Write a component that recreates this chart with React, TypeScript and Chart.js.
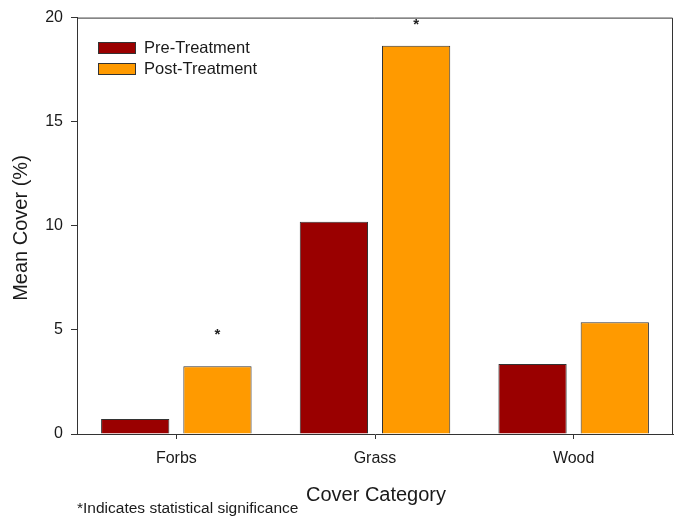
import React, { useEffect, useRef } from "react";
import { Chart, registerables } from "chart.js";

Chart.register(...registerables);

const categories = ["Forbs", "Grass", "Wood"];
const preTreatment = [0.72, 10.2, 3.36];
const postTreatment = [3.26, 18.65, 5.37];
const significanceMarkY = [4.8, 19.7, null];
const yTicks = [0, 5, 10, 15, 20];

const FONT = "'Liberation Sans', Arial, sans-serif";
const PRE_COLOR = "#9a0000";
const POST_COLOR = "#ff9a00";

const decorPlugin = {
  id: "decor",
  afterDraw(chart: any) {
    const { ctx, chartArea } = chart;
    const { left, right, top, bottom } = chartArea;
    ctx.save();
    // top and right spines
    ctx.strokeStyle = "#333";
    ctx.lineWidth = 1;
    ctx.beginPath();
    ctx.moveTo(left, top + 0.5);
    ctx.lineTo(right - 0.5, top + 0.5);
    ctx.lineTo(right - 0.5, bottom);
    ctx.stroke();

    // legend
    const items = [
      { label: "Pre-Treatment", color: PRE_COLOR },
      { label: "Post-Treatment", color: POST_COLOR },
    ];
    items.forEach((it, i) => {
      const y = 42 + i * 21;
      ctx.fillStyle = it.color;
      ctx.fillRect(98, y, 38, 12);
      ctx.strokeStyle = "#333";
      ctx.strokeRect(98.5, y + 0.5, 37, 11);
      ctx.fillStyle = "#1a1a1a";
      ctx.font = `16.5px ${FONT}`;
      ctx.textAlign = "left";
      ctx.textBaseline = "middle";
      ctx.fillText(it.label, 144, y + 6);
    });

    // significance marks
    const meta = chart.getDatasetMeta(1);
    const yScale = chart.scales.y;
    ctx.fillStyle = "#222";
    ctx.font = `bold 15px ${FONT}`;
    ctx.textAlign = "center";
    ctx.textBaseline = "middle";
    significanceMarkY.forEach((v, i) => {
      if (v == null) return;
      const bar = meta.data[i];
      ctx.fillText("*", bar.x, yScale.getPixelForValue(v) + 1);
    });

    // axis titles
    ctx.fillStyle = "#1a1a1a";
    ctx.font = `20px ${FONT}`;
    ctx.textAlign = "center";
    ctx.textBaseline = "middle";
    ctx.fillText("Cover Category", 376, 495);
    ctx.save();
    ctx.translate(21, 228);
    ctx.rotate(-Math.PI / 2);
    ctx.fillText("Mean Cover (%)", 0, 0);
    ctx.restore();

    // footnote
    ctx.font = `15.5px ${FONT}`;
    ctx.textAlign = "left";
    ctx.fillText("*Indicates statistical significance", 77, 509);
    ctx.restore();
  },
};

export default function App() {
  const canvasRef = useRef<HTMLCanvasElement | null>(null);

  useEffect(() => {
    document.body.style.margin = "0";
    const canvas = canvasRef.current;
    if (!canvas) return;
    const chart = new Chart(canvas, {
      type: "bar",
      data: {
        labels: categories,
        datasets: [
          {
            label: "Pre-Treatment",
            data: preTreatment,
            backgroundColor: PRE_COLOR,
            borderColor: "#333",
            borderWidth: 1,
            categoryPercentage: 0.828,
            barPercentage: 0.83,
          },
          {
            label: "Post-Treatment",
            data: postTreatment,
            backgroundColor: POST_COLOR,
            borderColor: "#333",
            borderWidth: 1,
            categoryPercentage: 0.828,
            barPercentage: 0.83,
          },
        ],
      },
      options: {
        animation: false,
        responsive: false,
        maintainAspectRatio: false,
        layout: { padding: { top: 17, right: 2, left: 0, bottom: 0 } },
        plugins: {
          legend: { display: false },
          tooltip: { enabled: false },
        },
        scales: {
          x: {
            grid: {
              display: true,
              drawOnChartArea: false,
              drawTicks: true,
              tickLength: 5,
              offset: false,
              color: "#333",
            },
            border: { display: true, color: "#333", width: 1 },
            ticks: {
              color: "#1a1a1a",
              font: { family: FONT, size: 16 },
              padding: 10,
            },
            afterFit(scale: any) {
              scale.height = 82;
            },
          },
          y: {
            min: 0,
            max: 20,
            afterBuildTicks(scale: any) {
              scale.ticks = yTicks.map((v) => ({ value: v }));
            },
            grid: {
              display: true,
              drawOnChartArea: false,
              drawTicks: true,
              tickLength: 6,
              color: "#333",
            },
            border: { display: true, color: "#333", width: 1 },
            ticks: {
              color: "#1a1a1a",
              font: { family: FONT, size: 16 },
              padding: 8,
            },
            afterFit(scale: any) {
              scale.width = 77;
            },
          },
        },
      },
      plugins: [decorPlugin],
    });
    return () => chart.destroy();
  }, []);

  return (
    <div style={{ position: "relative", width: 675, height: 516, background: "#fff" }}>
      <canvas ref={canvasRef} width={675} height={516} style={{ width: 675, height: 516 }} />
    </div>
  );
}
